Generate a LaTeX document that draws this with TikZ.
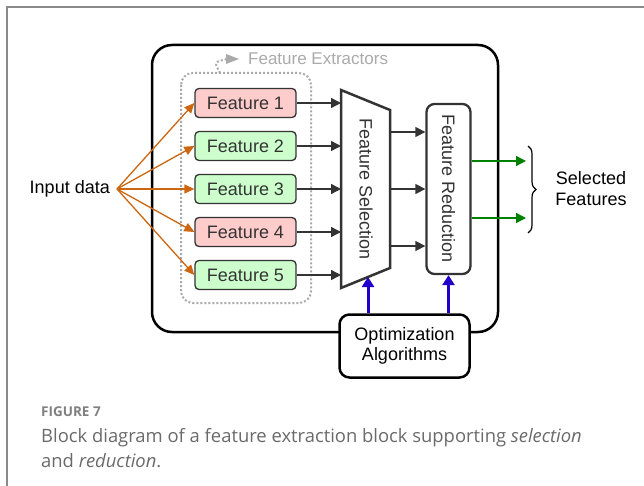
\documentclass[tikz,border=0pt]{standalone}
\usepackage{fontspec}
\setmainfont{Liberation Sans}
\newfontfamily\capfont{Open Sans}
\usetikzlibrary{arrows.meta,decorations.pathreplacing,calc}
\definecolor{pinkf}{HTML}{FFCCCC}
\definecolor{greenf}{HTML}{CCFFCC}
\definecolor{dgray}{HTML}{333333}
\definecolor{orng}{HTML}{CC6611}
\definecolor{bluea}{HTML}{2200CC}
\definecolor{greena}{HTML}{008000}
\definecolor{capgray}{HTML}{6A6A6A}
\definecolor{figgray}{HTML}{808080}
\definecolor{lgray}{HTML}{AAAAAA}
\definecolor{framegray}{HTML}{8A8A8A}
\begin{document}
\begin{tikzpicture}[x=1pt,y=-1pt,
  feat/.style={draw=dgray, line width=1.3pt, rounded corners=4pt, minimum width=101pt, minimum height=29pt, inner sep=0pt, font=\fontsize{18}{20}\selectfont, text=dgray},
  darr/.style={draw=dgray, line width=1.4pt, -{Triangle[length=10pt,width=10pt]}},
  oarr/.style={draw=orng, line width=1.3pt, -{Triangle[length=10pt,width=9pt]}},
  barr/.style={draw=bluea, line width=3pt, -{Triangle[length=10pt,width=12pt]}},
  garr/.style={draw=greena, line width=1.4pt, -{Triangle[length=10pt,width=10pt]}},
  lbl/.style={font=\fontsize{18}{21}\selectfont, inner sep=0pt}
]
\useasboundingbox (0,0) rectangle (644,486);
% frame
\draw[framegray, line width=1.3pt] (644,7) -- (7,7) -- (7,486);
% outer box
\draw[black, line width=2.5pt, rounded corners=20pt] (152,45) rectangle (498,332);
% feature extractors dotted
\draw[lgray, line width=2pt, dotted, rounded corners=12pt] (181,73) rectangle (311,303);
\draw[lgray, line width=2pt, dotted] (220,73) .. controls (214,62) .. (227,59);
\fill[lgray] (226,54) -- (239,59) -- (226,64) -- cycle;
\node[font=\fontsize{17}{20}\selectfont, inner sep=0pt, text=lgray, anchor=west] (fext) at (248,59) {Feature Extractors};
% features
\node[feat, fill=pinkf]  (f1) at (245.5,103) {Feature 1};
\node[feat, fill=greenf] (f2) at (245.5,146) {Feature 2};
\node[feat, fill=greenf] (f3) at (245.5,189) {Feature 3};
\node[feat, fill=pinkf]  (f4) at (245.5,232) {Feature 4};
\node[feat, fill=greenf] (f5) at (245.5,275) {Feature 5};
% input
\node[lbl, anchor=east] (inp) at (110,189) {Input data};
\coordinate (ip) at (117,189);
\foreach \i in {1,...,5} \draw[oarr] (ip) -- (f\i.west);
% feature selection trapezoid
\coordinate (fsTL) at (341,90);
\coordinate (fsTR) at (390,110);
\coordinate (fsBR) at (390,268);
\coordinate (fsBL) at (341,288);
\draw[dgray, line width=2.5pt, line join=miter] (fsTL) -- (fsTR) -- (fsBR) -- (fsBL) -- cycle;
\node[lbl, rotate=-90, text=dgray] (fs) at (366,189) {Feature Selection};
\foreach \i in {1,...,5} \draw[darr] (f\i.east) -- (f\i.east -| fsTL);
% feature reduction
\node[draw=dgray, line width=2.3pt, rounded corners=8pt, minimum width=44pt, minimum height=170pt, inner sep=0pt] (fr) at (448.5,189) {};
\node[lbl, rotate=-90, text=dgray] (frt) at (448.5,189) {Feature Reduction};
\foreach \y in {132,189,246} \draw[darr] (390,\y) coordinate (s\y) -- (s\y -| fr.west);
% outputs
\coordinate (o1) at (526,161);
\coordinate (o2) at (526,218);
\draw[garr] (fr.east |- o1) -- (o1);
\draw[garr] (fr.east |- o2) -- (o2);
\draw[black, line width=1.2pt, decorate, decoration={brace, amplitude=8pt}] (528,146) -- (528,233);
\node[lbl, align=center] (sel) at (591,189) {Selected\\Features};
% optimization
\node[draw=black, fill=white, line width=2.5pt, rounded corners=10pt, minimum width=130pt, minimum height=63pt, inner sep=0pt, align=center, font=\fontsize{18}{20}\selectfont] (opt) at (404.5,346) {Optimization\\Algorithms};
\draw[barr] (opt.north -| 368,0) -- (368,277);
\draw[barr] (opt.north -| fr.south) -- (fr.south);
% caption
\node[anchor=base west, inner sep=0pt, font=\capfont\bfseries\fontsize{13.5}{16}\selectfont, text=figgray] (fig) at (41,416) {FIGURE 7};
\node[anchor=base west, inner sep=0pt, font=\capfont\fontsize{18.4}{22}\selectfont, text=capgray] (cap1) at (41,442) {Block diagram of a feature extraction block supporting \textit{selection}};
\node[anchor=base west, inner sep=0pt, font=\capfont\fontsize{18.4}{22}\selectfont, text=capgray] (cap2) at (41,467) {and \textit{reduction}.};
\end{tikzpicture}
\end{document}
